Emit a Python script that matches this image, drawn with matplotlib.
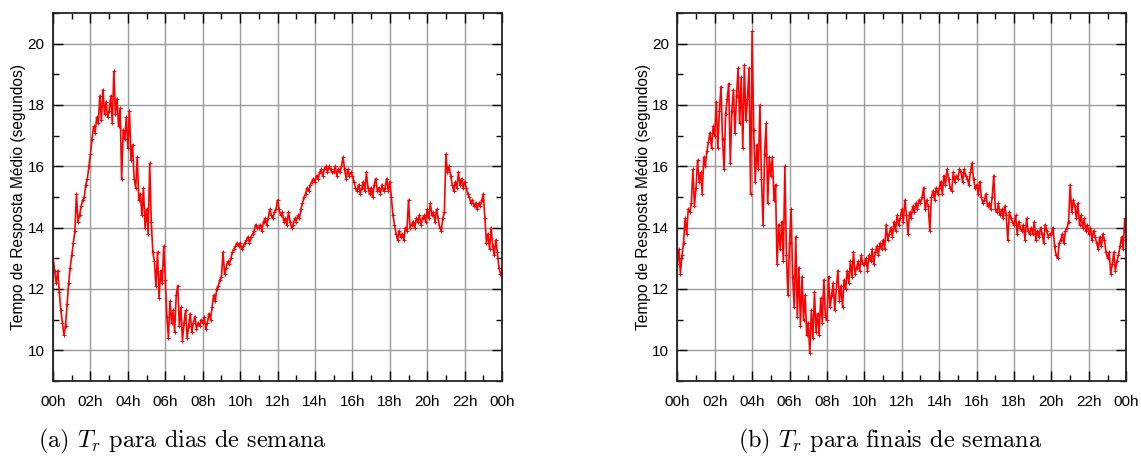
import numpy as np
import matplotlib
matplotlib.use("Agg")
import matplotlib.pyplot as plt
from matplotlib.ticker import MultipleLocator

# tempo de resposta medio, uma leitura a cada 5 minutos (linha = 1 hora)
tr_semana = [
    13.0, 12.6, 12.2, 12.6, 11.9, 11.3, 10.9, 10.5, 10.8, 11.5, 12.2, 12.7,
    13.1, 13.5, 13.9, 15.1, 14.2, 14.4, 14.7, 14.9, 15.0, 15.4, 15.6, 16.0,
    16.4, 16.9, 17.3, 17.1, 17.6, 17.4, 18.3, 17.5, 18.5, 17.7, 18.1, 17.6,
    17.8, 18.3, 17.4, 19.1, 17.7, 18.2, 17.3, 17.9, 15.6, 17.2, 16.9, 17.6,
    16.6, 17.8, 16.2, 16.7, 15.6, 15.3, 16.3, 14.9, 15.1, 14.4, 15.3, 14.0,
    14.6, 13.8, 16.1, 14.2, 13.2, 12.9, 12.1, 13.2, 11.7, 12.6, 12.2, 13.4,
    12.3, 11.1, 10.4, 11.6, 10.9, 11.3, 10.6, 11.8, 12.1, 10.8, 11.4, 10.3,
    10.9, 11.3, 10.4, 10.8, 11.2, 10.6, 10.9, 11.1, 10.7, 10.9, 10.8, 11.0,
    10.9, 11.1, 10.7, 10.9, 11.2, 11.0, 11.4, 11.8, 11.6, 12.0, 12.1, 12.3,
    12.4, 13.2, 12.5, 12.7, 12.9, 12.8, 13.0, 13.2, 13.3, 13.4, 13.5, 13.4,
    13.5, 13.3, 13.4, 13.5, 13.6, 13.7, 13.5, 13.7, 13.8, 13.9, 14.1, 14.0,
    14.0, 14.1, 13.9, 14.2, 14.3, 14.1, 14.3, 14.6, 14.4, 14.3, 14.5, 14.6,
    14.9, 14.6, 14.4, 14.5, 14.2, 14.3, 14.1, 14.5, 14.2, 14.0, 14.1, 14.3,
    14.2, 14.4, 14.3, 14.6, 14.8, 15.0, 15.1, 15.3, 15.2, 15.4, 15.5, 15.6,
    15.5, 15.7, 15.6, 15.8, 15.9, 15.7, 15.9, 16.0, 15.8, 16.0, 15.9, 15.8,
    15.8, 16.0, 15.7, 15.9, 15.8, 16.0, 16.3, 15.9, 15.6, 15.9, 15.7, 15.8,
    15.7, 15.5, 15.3, 15.2, 15.4, 15.1, 15.3, 15.5, 15.2, 15.8, 15.3, 15.1,
    15.3, 15.0, 15.4, 15.6, 15.2, 15.3, 15.1, 15.4, 15.2, 15.3, 15.6, 15.2,
    15.5, 15.0, 14.4, 14.1, 13.8, 13.6, 13.9, 13.7, 13.8, 13.6, 14.0, 13.9,
    14.9, 14.0, 14.1, 14.2, 14.0, 14.3, 14.2, 14.4, 14.1, 14.3, 14.4, 14.2,
    14.6, 14.3, 14.8, 14.4, 14.5, 14.2, 14.6, 14.3, 14.0, 13.9, 14.3, 14.5,
    16.4, 15.8, 16.0, 15.7, 15.4, 15.2, 15.5, 15.3, 15.8, 15.4, 15.6, 15.3,
    15.5, 15.3, 15.1, 15.0, 14.8, 14.9, 14.7, 14.8, 14.6, 14.8, 14.7, 14.9,
    15.1, 14.3, 13.5, 13.8, 13.3, 14.0, 13.4, 13.1, 13.6, 13.2, 12.7, 12.5,
    12.5,
]

tr_fim_semana = [
    12.8, 13.3, 12.5, 13.1, 13.5, 14.3, 13.8, 14.6, 14.5, 14.8, 15.9, 14.7,
    15.3, 16.2, 15.5, 15.8, 15.1, 16.3, 16.0, 16.5, 16.8, 17.1, 16.6, 17.3,
    17.0, 18.1, 16.6, 17.8, 18.6, 16.9, 15.9, 17.7, 18.2, 18.7, 16.1, 17.8,
    18.5, 17.1, 18.3, 19.2, 17.4, 18.9, 16.6, 19.3, 17.5, 18.2, 19.2, 15.1,
    20.4, 17.2, 15.5, 16.7, 15.9, 18.0, 15.6, 14.1, 16.4, 17.4, 14.8, 16.3,
    15.7, 16.3, 14.9, 15.4, 12.8, 14.1, 13.3, 14.2, 12.9, 16.0, 13.1, 11.8,
    13.5, 14.6, 12.4, 11.4, 13.7, 11.1, 12.7, 10.8, 12.4, 11.0, 11.8, 10.5,
    10.9, 9.9, 11.3, 10.4, 11.9, 10.6, 11.2, 10.5, 11.7, 10.9, 12.3, 11.1,
    11.0, 12.4, 11.4, 11.8, 12.2, 11.3, 12.0, 12.6, 11.6, 12.1, 11.4, 12.3,
    12.0, 12.6, 12.2, 12.9, 12.4, 13.2, 12.5, 12.7, 12.9, 12.6, 13.1, 12.8,
    12.8, 13.0, 12.6, 13.1, 12.9, 13.3, 12.8, 13.2, 13.4, 13.1, 13.5, 13.3,
    13.6, 13.3, 14.1, 13.6, 13.8, 14.0, 13.7, 14.2, 13.9, 14.4, 14.1, 14.3,
    14.6, 14.2, 14.9, 14.4, 13.8, 14.5, 14.3, 14.7, 14.5, 14.8, 14.6, 14.9,
    14.8, 15.0, 15.3, 14.6, 14.9, 14.7, 13.9, 15.0, 15.2, 14.9, 15.3, 15.1,
    15.3, 15.5, 15.1, 15.7, 15.4, 15.9, 15.6, 15.3, 15.2, 15.8, 15.5, 15.7,
    15.6, 15.9, 15.8, 15.5, 15.9, 15.7, 15.6, 15.4, 15.8, 16.1, 15.6, 15.3,
    15.4, 15.1, 15.5, 15.0, 14.8, 14.9, 15.1, 14.7, 14.8, 14.6, 15.0, 15.7,
    14.6, 14.5, 14.8, 14.4, 14.6, 14.3, 14.7, 14.4, 13.6, 14.5, 14.3, 14.2,
    14.1, 14.4, 13.8, 14.2, 14.0, 13.9, 14.1, 13.6, 14.3, 13.9, 13.8, 14.0,
    13.8, 14.2, 13.6, 13.9, 13.7, 14.0, 13.8, 13.5, 14.1, 13.9, 13.7, 13.8,
    13.8, 14.0, 13.4, 13.1, 13.0, 13.5, 13.6, 13.8, 13.5, 13.9, 14.0, 14.2,
    15.4, 14.5, 14.9, 14.7, 14.3, 14.8, 14.1, 14.4, 14.0, 14.3, 13.9, 14.1,
    13.8, 14.0, 13.6, 13.9, 13.7, 13.5, 13.3, 13.7, 13.4, 13.8, 13.6, 13.2,
    13.0, 13.2, 12.5, 12.8, 13.2, 12.6, 12.9, 13.1, 13.4, 13.7, 13.3, 14.3,
    13.6,
]

minutos = np.arange(0, 24 * 60 + 1, 5)
horas_ticks = list(range(0, 25, 2))
horas_labels = ["00h", "02h", "04h", "06h", "08h", "10h", "12h",
                "14h", "16h", "18h", "20h", "22h", "00h"]
legendas = [r"(a) $T_r$ para dias de semana",
            r"(b) $T_r$ para finais de semana"]

plt.rcParams['font.family'] = ['Liberation Sans', 'DejaVu Sans']
plt.rcParams['mathtext.fontset'] = 'cm'


def desenha(ax, valores):
    ax.plot(minutos / 60.0, valores, color='#ff0000', lw=1.2,
            marker='+', ms=3, mew=0.7)
    ax.set_xlim(0, 24)
    ax.set_ylim(9, 21)
    ax.set_xticks(horas_ticks)
    ax.set_xticklabels(horas_labels)
    ax.xaxis.set_minor_locator(MultipleLocator(1))
    ax.set_yticks(range(10, 21, 2))
    ax.yaxis.set_minor_locator(MultipleLocator(1))
    ax.grid(True, which='major', color='#9a9a9a', lw=1.0)
    ax.set_axisbelow(True)
    ax.tick_params(which='both', direction='in', top=True, right=True,
                   labelsize=11, color='black')
    ax.tick_params(which='major', length=7, width=1)
    ax.tick_params(which='minor', length=4, width=1)
    ax.tick_params(axis='x', pad=10)
    ax.tick_params(axis='y', pad=6)
    for s in ax.spines.values():
        s.set_linewidth(1.3)
        s.set_color('#222222')
    ax.set_ylabel("Tempo de Resposta Médio (segundos)", fontsize=11.2,
                  labelpad=1)


fig = plt.figure(figsize=(11.41, 4.59), dpi=100)
ax1 = fig.add_axes([0.0465, 0.170, 0.3935, 0.8017])
ax2 = fig.add_axes([0.5936, 0.170, 0.3935, 0.8017])
desenha(ax1, tr_semana)
desenha(ax2, tr_fim_semana)

fig.text(182 / 1141, 0.038, legendas[0], ha='center', va='center',
         fontsize=17.5, family='cmr10')
fig.text(890 / 1141, 0.038, legendas[1], ha='center', va='center',
         fontsize=17.5, family='cmr10')

fig.savefig("out.png", dpi=100)
